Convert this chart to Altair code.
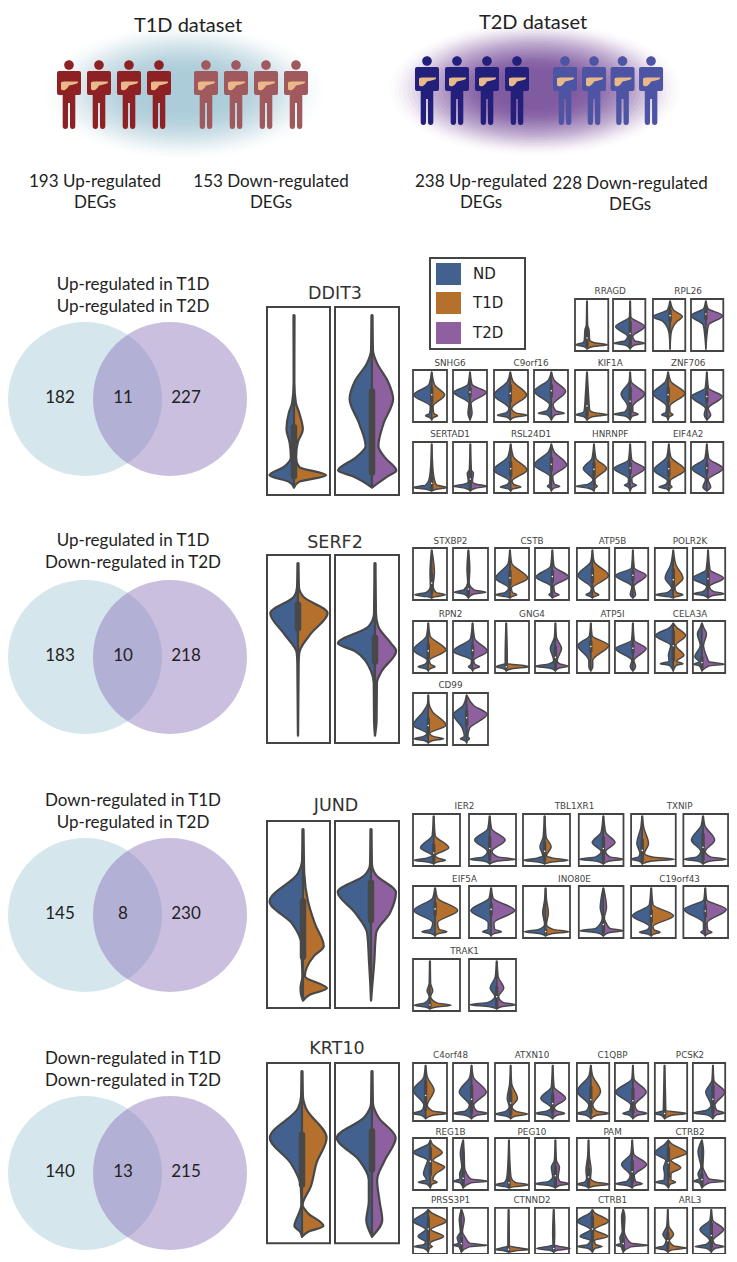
import altair as alt
import pandas as pd

# ---------- colours ----------
ND, T1D, T2D = "#43618f", "#b5702e", "#8e60a0"
EDGE = "#484848"

# ---------- header ----------
GLOW_STEPS = [(1.0, .014), (.97, .02), (.94, .028), (.91, .036), (.88, .042), (.85, .05), (.82, .055), (.79, .06),
              (.76, .065), (.73, .07), (.70, .07), (.67, .07), (.64, .075), (.61, .08), (.58, .08), (.55, .085),
              (.52, .09), (.49, .09), (.46, .09), (.43, .09), (.40, .08), (.36, .07), (.32, .06), (.28, .05)]
T1D_GLOW = (184, 92)
T2D_GLOW = (535, 89)
PEOPLE = [
    ([69, 99, 129, 159], 65, "#8e2124"),
    ([206, 236, 266, 296], 65, "#a05a5e"),
    ([427, 457, 487, 517], 61, "#22207a"),
    ([565, 595, 625, 655], 61, "#4d54a4"),
]
HEADER_TEXT = [
    ("T1D dataset", 188, 24, 21), ("T2D dataset", 533, 20, 21),
    ("193 Up-regulated", 95, 182, 16.5), ("DEGs", 95, 203, 16.5),
    ("153 Down-regulated", 271, 182, 16.5), ("DEGs", 271, 203, 16.5),
    ("238 Up-regulated", 481, 182, 16.5), ("DEGs", 481, 203, 16.5),
    ("228 Down-regulated", 633, 184, 16.5), ("DEGs", 633, 205, 16.5),
]

# ---------- venn ----------
VENN = [
    (399, 285, "Up-regulated in T1D", "Up-regulated in T2D", 182, 11, 227),
    (657, 541, "Up-regulated in T1D", "Down-regulated in T2D", 183, 10, 218),
    (915, 801, "Down-regulated in T1D", "Up-regulated in T2D", 145, 8, 230),
    (1173, 1059, "Down-regulated in T1D", "Down-regulated in T2D", 140, 13, 215),
]

# ---------- legend ----------
LEGEND = [("ND", ND, 263, 285), ("T1D", T1D, 292, 314), ("T2D", T2D, 322, 344)]

# ---------- big violins: (centre px, [(t%, left%, right%)...], (box t%)) ----------
BIG = [
    ("DDIT3", 335, 294, (307, 495),
     (294, [(40, .5, .5), (51, 3, 3), (56, 8, 8), (65, 12, 14), (72, 7, 6), (80, 5, 3), (85, 16, 8), (89.5, 39, 51), (93, 8, 8)], (64, 90)),
     (372, [(23, 1.5, 1.5), (30, 8, 8), (39, 26, 24), (49, 35, 33), (62, 20, 18), (74, 10, 10), (80, 25, 20), (87, 53, 38), (90, 30, 25)], (45, 88))),
    ("SERF2", 335, 543, (555, 743),
     (298, [(17, 1.5, 1.5), (22, 6, 8), (31, 44, 47), (42, 22, 20), (52, 2, 2), (58, 1, 1)], (26.5, 39)),
     (375, [(31, 1.5, 1.5), (38, 10, 5), (47, 58, 25), (51, 32, 33), (62, 6, 10), (68, 2, 3), (88, 1.5, 2.5)], (44, 56.6))),
    ("JUND", 336, 806, (821, 1008),
     (303, [(21, 1.5, 1.5), (28, 8, 2), (43, 53, 8), (55, 17, 19), (67, 2, 33), (72, 2, 18), (83, 1, 3), (89.5, 4, 38), (93, 3, 10)], (43, 72.6)),
     (371, [(23, 1.5, 1.5), (29, 10, 8), (38, 52, 39), (49, 25, 30), (60, 6, 8), (76, 3, 5), (88, 1, 2)], (33, 53))),
    ("KRT10", 337, 1049, (1063, 1250),
     (302, [(18, 1.5, 1.5), (24, 6, 6), (40, 51, 39), (53.5, 18, 23), (66, 2, 14), (77, 1, 1), (82, 5, 10), (89.5, 12, 34), (93, 3, 10)], (38.5, 65)),
     (372, [(21.5, 1.5, 1.5), (29, 12, 10), (40, 55, 37), (52, 20, 20), (62.5, 5, 8), (75, 5, 12), (86, 9, 16)], (36.5, 57))),
]
BIG_X = [(267, 330), (335, 399)]

# ---------- small violins: gene, (centre %, points, box), (centre %, points, box) ----------
S1 = [
    ("RRAGD", (36, [(50, 2, 2), (59, 6, 6), (79, 8, 8), (88, 33, 62)], (60, 90)), (53, [(34, 2, 2), (53, 45, 45), (72, 8, 8), (85, 50, 45)], (45, 88))),
    ("RPL26", (53, [(21, 8, 10), (34, 53, 38), (43, 22, 22), (66, 3, 3)], (22, 42)), (46, [(18, 6, 6), (32, 45, 52), (50, 8, 8), (72, 3, 3)], (20, 38))),
    ("SNHG6", (55, [(28, 8, 8), (48, 53, 38), (70, 4, 4), (88, 18, 17)], (35, 60)), (50, [(28, 6, 6), (43, 48, 48), (64, 3, 3), (83, 6, 6)], (35, 50))),
    ("C9orf16", (48, [(22, 8, 8), (48, 48, 48), (74, 4, 4), (87, 38, 50)], (30, 60)), (51, [(19, 8, 8), (41, 50, 42), (67, 5, 5), (83, 38, 38)], (30, 50))),
    ("KIF1A", (36, [(51, 5, 5), (77, 8, 8), (86, 33, 62)], (50, 88)), (53, [(22, 3, 3), (46, 28, 45), (70, 8, 8), (85, 50, 25)], (35, 85))),
    ("ZNF706", (47, [(22, 8, 8), (45, 47, 52), (70, 5, 5), (86, 20, 15)], (35, 60)), (49, [(35, 5, 5), (51, 48, 48), (74, 4, 4), (86, 8, 12)], (42, 60))),
    ("SERTAD1", (55, [(48, 3, 3), (74, 8, 8), (89, 55, 45)], (70, 92)), (51, [(55, 3, 3), (61, 9, 9), (78, 6, 6), (87, 50, 50)], (55, 90))),
    ("RSL24D1", (49, [(29, 8, 8), (55, 50, 48), (77, 4, 4), (88, 30, 30)], (40, 65)), (51, [(19, 8, 8), (45, 50, 45), (68, 4, 4), (87, 12, 25)], (32, 55))),
    ("HNRNPF", (57, [(32, 6, 6), (52, 32, 38), (74, 3, 3), (87, 55, 10)], (42, 65)), (53, [(35, 5, 5), (52, 50, 45), (72, 5, 5), (85, 18, 20)], (42, 60))),
    ("EIF4A2", (49, [(29, 6, 6), (55, 46, 50), (77, 4, 4), (88, 30, 10)], (40, 65)), (49, [(32, 6, 6), (52, 46, 50), (74, 4, 4), (88, 12, 12)], (42, 60))),
]
S2 = [
    ("STXBP2", (55, [(48, 5, 8), (74, 4, 4), (90, 50, 40)], (50, 85)), (44, [(42, 4, 4), (67, 2, 2), (85, 40, 50)], (70, 88))),
    ("CSTB", (44, [(29, 5, 5), (58, 42, 52), (77, 4, 4), (90, 42, 20)], (45, 70)), (51, [(35, 5, 5), (56, 48, 48), (74, 4, 4), (90, 10, 20)], (45, 65))),
    ("ATP5B", (48, [(26, 5, 5), (53, 45, 50), (77, 3, 3), (90, 20, 20)], (40, 65)), (54, [(38, 4, 4), (53, 52, 40), (74, 3, 3), (90, 8, 8)], (45, 60))),
    ("POLR2K", (57, [(32, 8, 8), (58, 25, 30), (77, 5, 5), (90, 55, 30)], (42, 80)), (47, [(42, 6, 6), (58, 48, 48), (74, 4, 4), (88, 45, 50)], (48, 70))),
    ("RPN2", (45, [(28, 5, 5), (56, 44, 52), (76, 3, 3), (88, 30, 20)], (45, 70)), (56, [(34, 6, 6), (58, 55, 42), (76, 3, 3), (88, 12, 20)], (48, 65))),
    ("GNG4", (33, [(70, 3, 3), (82, 3, 3), (88, 30, 68)], (86, 90)), (60, [(31, 3, 3), (53, 15, 18), (76, 5, 5), (87, 60, 38)], (50, 90))),
    ("ATP5I", (43, [(28, 4, 4), (47, 40, 55), (76, 6, 6), (88, 6, 6)], (40, 58)), (54, [(37, 4, 4), (53, 52, 40), (76, 3, 3), (88, 8, 8)], (45, 60))),
    ("CELA3A", (57, [(12, 10, 10), (28, 55, 38), (47, 8, 8), (66, 15, 33), (82, 40, 30)], (20, 75)), (28, [(12, 5, 5), (25, 14, 14), (47, 5, 5), (69, 22, 15), (83, 25, 70)], (70, 90))),
    ("CD99", (45, [(20, 2, 2), (36, 15, 12), (62, 44, 52), (78, 4, 4), (88, 42, 45)], (50, 75)), (39, [(24, 10, 20), (41, 38, 58), (68, 12, 8), (88, 18, 8)], (35, 60))),
]
S3 = [
    ("IER2", (44, [(41, 3, 3), (65, 28, 32), (80, 3, 3), (89, 42, 25)], (60, 90)), (44, [(28, 4, 4), (50, 32, 33), (72, 5, 5), (87, 42, 55)], (45, 88))),
    ("TBL1XR1", (46, [(44, 3, 3), (63, 10, 14), (80, 4, 4), (89, 45, 50)], (55, 88)), (55, [(35, 5, 5), (55, 25, 26), (72, 5, 5), (87, 54, 45)], (45, 88))),
    ("TXNIP", (25, [(25, 3, 3), (57, 12, 14), (76, 5, 5), (87, 25, 72)], (50, 90)), (44, [(22, 4, 4), (50, 26, 26), (72, 5, 5), (87, 42, 52)], (40, 88))),
    ("EIF5A", (47, [(23, 5, 5), (47, 45, 48), (71, 5, 5), (88, 28, 25)], (33, 55)), (47, [(23, 4, 4), (47, 43, 50), (71, 6, 6), (88, 18, 22)], (35, 55))),
    ("INO80E", (48, [(26, 2, 2), (52, 6, 6), (74, 2, 2), (88, 45, 50)], (85, 90)), (55, [(42, 7, 7), (62, 2, 2), (71, 6, 6), (86, 53, 45)], (60, 88))),
    ("C19orf43", (45, [(36, 4, 4), (57, 42, 50), (78, 4, 4), (89, 26, 20)], (47, 68)), (49, [(26, 3, 3), (45, 47, 47), (71, 4, 4), (89, 10, 15)], (38, 58))),
    ("TRAK1", (36, [(47, 1.5, 1.5), (61, 6, 6), (72, 1.5, 1.5), (89, 33, 45)], (86, 91)), (59, [(34, 3, 3), (56, 14, 15), (72, 4, 4), (88, 58, 40)], (55, 90))),
]
S4 = [
    ("C4orf48", (37, [(24, 5, 5), (47, 36, 25), (73, 5, 5), (87, 37, 63)], (32, 80)), (53, [(24, 5, 5), (50, 35, 42), (73, 6, 6), (87, 52, 45)], (40, 85))),
    ("ATXN10", (46, [(36, 3, 3), (61, 10, 20), (76, 4, 4), (88, 45, 50)], (50, 88)), (52, [(41, 4, 4), (61, 35, 38), (77, 5, 5), (87, 50, 35)], (55, 85))),
    ("C1QBP", (43, [(21, 5, 5), (49, 42, 30), (73, 6, 6), (87, 42, 55)], (42, 85)), (54, [(27, 3, 3), (50, 52, 40), (73, 6, 6), (87, 30, 42)], (45, 85))),
    ("PCSK2", (30, [(59, 3, 3), (82, 4, 4), (87, 30, 68)], (84, 90)), (62, [(30, 3, 3), (50, 22, 37), (73, 6, 6), (86, 60, 35)], (40, 85))),
    ("REG1B", (51, [(11, 5, 5), (28, 50, 35), (43, 8, 8), (56, 15, 42), (69, 20, 15), (85, 35, 20)], (20, 70)), (29, [(30, 8, 3), (56, 4, 4), (69, 10, 10), (83, 27, 70)], (65, 90))),
    ("PEG10", (41, [(49, 3, 3), (75, 6, 6), (90, 40, 58)], (80, 92)), (60, [(43, 3, 3), (56, 12, 12), (75, 8, 8), (88, 60, 40)], (55, 90))),
    ("PAM", (36, [(37, 3, 3), (62, 8, 8), (78, 6, 6), (89, 35, 65)], (60, 90)), (52, [(30, 4, 4), (51, 32, 43), (72, 6, 6), (88, 50, 30)], (45, 85))),
    ("CTRB2", (42, [(11, 10, 10), (29, 42, 57), (43, 8, 8), (57, 15, 38), (69, 12, 8), (85, 40, 22)], (20, 75)), (28, [(27, 12, 5), (56, 3, 3), (69, 12, 12), (83, 25, 70)], (70, 90))),
    ("PRSS3P1", (45, [(10, 8, 8), (29, 44, 53), (47, 8, 8), (62, 30, 45), (74, 8, 8), (84, 42, 12)], (22, 70)), (24, [(26, 6, 8), (52, 3, 3), (65, 12, 12), (81, 24, 74)], (65, 90))),
    ("CTNND2", (40, [(65, 2, 2), (82, 2, 2), (90, 38, 60)], (88, 92)), (55, [(58, 3, 3), (80, 2, 2), (88, 50, 48)], (86, 90))),
    ("CTRB1", (48, [(10, 6, 6), (29, 47, 50), (47, 6, 6), (62, 38, 48), (71, 6, 6), (84, 47, 30)], (20, 72)), (25, [(20, 5, 5), (52, 3, 3), (65, 10, 10), (81, 22, 75)], (65, 90))),
    ("ARL3", (40, [(39, 3, 3), (58, 15, 18), (71, 5, 5), (87, 40, 58)], (55, 88)), (57, [(26, 4, 4), (47, 35, 38), (71, 5, 5), (84, 50, 40)], (35, 85))),
]

X8A = [(413, 447), (453, 487), (494, 528), (534, 568), (575, 610), (615, 649), (657, 691), (697, 731)]
X8B = [(413, 447), (453, 488), (495, 529), (535, 569), (577, 611), (617, 652), (659, 693), (699, 733)]
X6 = [(413, 460), (469, 516), (523, 570), (579, 626), (634, 681), (689, 736)]
# (genes, gene slots, [(frame top, frame bottom, title y, first gene slot, number of genes)...])
GRIDS = [
    (S1, X8A, [(299, 351, 291, 2, 2), (370, 422, 363, 0, 4), (442, 493, 434, 0, 4)]),
    (S2, X8B, [(548, 600, 541, 0, 4), (621, 673, 614, 0, 4), (693, 745, 685, 0, 1)]),
    (S3, X6, [(814, 866, 806, 0, 3), (886, 938, 879, 0, 3), (959, 1011, 951, 0, 1)]),
    (S4, X8B, [(1063, 1121, 1055, 0, 4), (1138, 1190, 1132, 0, 4), (1210, 1262, 1201, 0, 4)]),
]

# ---------- tables ----------
areas, frames, boxes, whisk, dots, small_t, big_t, areas_big, frames_big, boxes_big, whisk_big = ([] for _ in range(11))


def add_violin(pid, cx, fr_w, top, bottom, pts, box, colour, area_rows, box_rows, whisk_rows, sharpen=False):
    h = bottom - top
    body = list(pts)
    if sharpen and max(body[-1][1:]) >= 15:
        # the low peak of a small violin is a narrow spike: keep its shoulders close
        t, l, r = body.pop()
        if not body or body[-1][0] < t - 5:
            body.append((t - 4.5, l * .3 + 1, r * .3 + 1))
        body += [(t, l, r), (t + 3.5, l * .3, r * .3)]
    full = [(4.5, .8, .8)] + body + [(96, 0, 0)]
    for side, col, i in (("L", ND, 1), ("R", colour, 2)):
        sign = -1 if side == "L" else 1
        for p in full:
            area_rows.append({"id": f"{pid}{side}", "c": col, "x": cx, "x2": cx + sign * p[i] * fr_w / 100,
                              "y": top + p[0] * h / 100})
    box_rows.append({"x": cx, "y": top + box[0] * h / 100, "y2": top + box[1] * h / 100})
    whisk_rows.append({"x": cx, "y": top + max(box[0] - 14, 5) * h / 100, "y2": top + min(box[1] + 12, 95) * h / 100})


for gene, tx, ty, (ftop, fbot), left, right in BIG:
    big_t.append({"t": gene, "x": tx, "y": ty})
    for n, (panel, colour, (x0, x1)) in enumerate(zip((left, right), (T1D, T2D), BIG_X)):
        frames_big.append({"x": x0, "x2": x1, "y": ftop, "y2": fbot})
        add_violin(f"{gene}{n}", panel[0], x1 - x0, ftop, fbot, panel[1], panel[2], colour, areas_big, boxes_big, whisk_big)

for genes, slots, rows in GRIDS:
    idx = 0
    for top, bottom, ty, first, count in rows:
        for g in range(count):
            name, a, b = genes[idx]
            idx += 1
            s0 = slots[(first + g) * 2]
            s1 = slots[(first + g) * 2 + 1]
            small_t.append({"t": name, "x": (s0[0] + s1[1]) / 2, "y": ty})
            for n, (panel, colour, (x0, x1)) in enumerate(zip((a, b), (T1D, T2D), (s0, s1))):
                frames.append({"x": x0, "x2": x1, "y": top, "y2": bottom})
                cx = x0 + panel[0] * (x1 - x0) / 100
                add_violin(f"{name}{n}", cx, x1 - x0, top, bottom, panel[1], panel[2], colour, areas, boxes, whisk, True)
                dots.append({"x": cx, "y": top + (panel[2][0] + panel[2][1]) / 2 * (bottom - top) / 100})

# page margin takes 8px on each side: the outer bands are squeezed, the middle stays 1:1
XS = alt.Scale(domain=[0, 60, 575, 737], range=[0, 52, 567, 721], nice=False, zero=False)
YS = alt.Scale(domain=[0, 30, 1190, 1262], range=[0, 22, 1182, 1246], nice=False, zero=False)
X = alt.X("x:Q", scale=XS, axis=None, stack=None)
Y = alt.Y("y:Q", scale=YS, axis=None)


def pts(rows, path, **kw):
    return alt.Chart(pd.DataFrame(rows)).mark_point(shape=path, filled=True, strokeWidth=0, **kw).encode(
        x=X, y=Y, color=alt.Color("c:N", scale=None), size=alt.Size("s:Q", scale=None))


def glow(rows, path):
    return alt.Chart(pd.DataFrame(rows)).mark_point(shape=path, filled=True, strokeWidth=0).encode(
        x=X, y=Y, color=alt.Color("c:N", scale=None), size=alt.Size("s:Q", scale=None),
        opacity=alt.Opacity("o:Q", scale=None))


def texts(rows, font, color, align="center", **kw):
    return alt.Chart(pd.DataFrame(rows)).mark_text(font=font, color=color, baseline="middle", align=align, **kw).encode(
        x=X, y=Y, text="t:N")


def frame_layer(rows, width):
    return alt.Chart(pd.DataFrame(rows)).mark_rect(fillOpacity=0, stroke="#444444", strokeWidth=width).encode(
        x=X, x2="x2:Q", y=Y, y2="y2:Q")


def violin_layer(rows, width):
    return alt.Chart(pd.DataFrame(rows)).mark_area(orient="horizontal", interpolate="monotone", stroke=EDGE,
                                                   strokeWidth=width, strokeJoin="round", opacity=1).encode(
        x=X, x2="x2:Q", y=Y, fill=alt.Fill("c:N", scale=None), detail="id:N")


def bar_layer(rows, width, cap="round"):
    return alt.Chart(pd.DataFrame(rows)).mark_rule(color=EDGE, strokeWidth=width, strokeCap=cap).encode(
        x=X, y=Y, y2="y2:Q")


ELL_A = "M-140,0 A140,67 0 1,1 140,0 A140,67 0 1,1 -140,0 Z"
ELL_B = "M-145,0 A145,66 0 1,1 145,0 A145,66 0 1,1 -145,0 Z"
PERSON = ("M-4.8,0 A4.8,4.8 0 1,1 4.8,0 A4.8,4.8 0 1,1 -4.8,0 Z "
          "M-10,6 H10 Q12,6 12,8 V28 Q12,30 10,30 H6.3 V61 Q6.3,64 3.6,64 Q1,64 1,61 V38 H-1 V61 Q-1,64 -3.6,64 "
          "Q-6.3,64 -6.3,61 V30 H-10 Q-12,30 -12,28 V8 Q-12,6 -10,6 Z")
PANCREAS = "M-8,18 Q-8,16.5 -5,16.5 L9,16.5 Q9.5,17.5 8,18.5 Q3,20 0,20.5 Q-1,23 -4,25 Q-7,26 -8,24 Z"

glow_a = [{"x": T1D_GLOW[0], "y": T1D_GLOW[1], "c": "#9cc4d4", "s": (2 * g) ** 2, "o": o} for g, o in GLOW_STEPS]
glow_b = [{"x": T2D_GLOW[0], "y": T2D_GLOW[1], "c": "#66368f", "s": (2 * g) ** 2, "o": o} for g, o in GLOW_STEPS]
people = [{"x": x, "y": y, "c": col, "s": 4} for xs, y, col in PEOPLE for x in xs]
pancreas = [{"x": x, "y": y, "c": "#e9b98a", "s": 4} for xs, y, col in PEOPLE for x in xs]
venn_a = [{"x": 85, "y": v[0], "c": "#d5e7ed", "s": (2 * 77) ** 2} for v in VENN]
venn_b = [{"x": 170, "y": v[0], "c": "#7d5fb2", "s": (2 * 77) ** 2} for v in VENN]
venn_txt = []
for cy, ly, a, b, n1, n2, n3 in VENN:
    venn_txt += [{"t": a, "x": 133, "y": ly}, {"t": b, "x": 133, "y": ly + 22},
                 {"t": str(n1), "x": 60, "y": cy - 1}, {"t": str(n2), "x": 123, "y": cy - 1}, {"t": str(n3), "x": 186, "y": cy - 1}]
header_big = [{"t": t, "x": x, "y": y} for t, x, y, s in HEADER_TEXT if s > 20]
header_small = [{"t": t, "x": x, "y": y} for t, x, y, s in HEADER_TEXT if s < 20]
legend_box = [{"x": 430, "x2": 525, "y": 258, "y2": 349}]
legend_swatch = [{"x": 436, "x2": 461, "y": a, "y2": b, "c": c} for _, c, a, b in LEGEND]
legend_txt = [{"t": t, "x": 473, "y": (a + b) / 2} for t, _, a, b in LEGEND]

chart = alt.layer(
    glow(glow_a, ELL_A),
    glow(glow_b, ELL_B),
    pts(people, PERSON, opacity=1),
    pts(pancreas, PANCREAS, opacity=1),
    texts(header_big, "Lato", "#222222", fontSize=20),
    texts(header_small, "Lato", "#222222", fontSize=17),
    pts(venn_a, "circle", opacity=1),
    pts(venn_b, "circle", opacity=.4),
    texts(venn_txt, "Lato", "#222222", fontSize=17),
    violin_layer(areas_big, 2.2),
    violin_layer(areas, 1.5),
    bar_layer(whisk, 1.3, "butt"),
    bar_layer(boxes_big, 6.5),
    bar_layer(boxes, 3.4),
    alt.Chart(pd.DataFrame(dots)).mark_point(filled=True, color="white", size=2.5, opacity=1, strokeWidth=0).encode(x=X, y=Y),
    frame_layer(frames_big, 2),
    frame_layer(frames, 1.8),
    texts(big_t, "DejaVu Sans", "#333333", fontSize=17.5),
    texts(small_t, "DejaVu Sans", "#444444", fontSize=8.8),
    frame_layer(legend_box, 2),
    alt.Chart(pd.DataFrame(legend_swatch)).mark_rect(opacity=1).encode(
        x=X, x2="x2:Q", y=Y, y2="y2:Q", fill=alt.Fill("c:N", scale=None)),
    texts(legend_txt, "DejaVu Sans", "#222222", align="left", fontSize=15),
).properties(width=721, height=1246, padding=0, autosize=alt.AutoSizeParams(type="none")).configure_view(stroke=None)

chart.save("out.html", embed_options={"renderer": "svg", "actions": False})
